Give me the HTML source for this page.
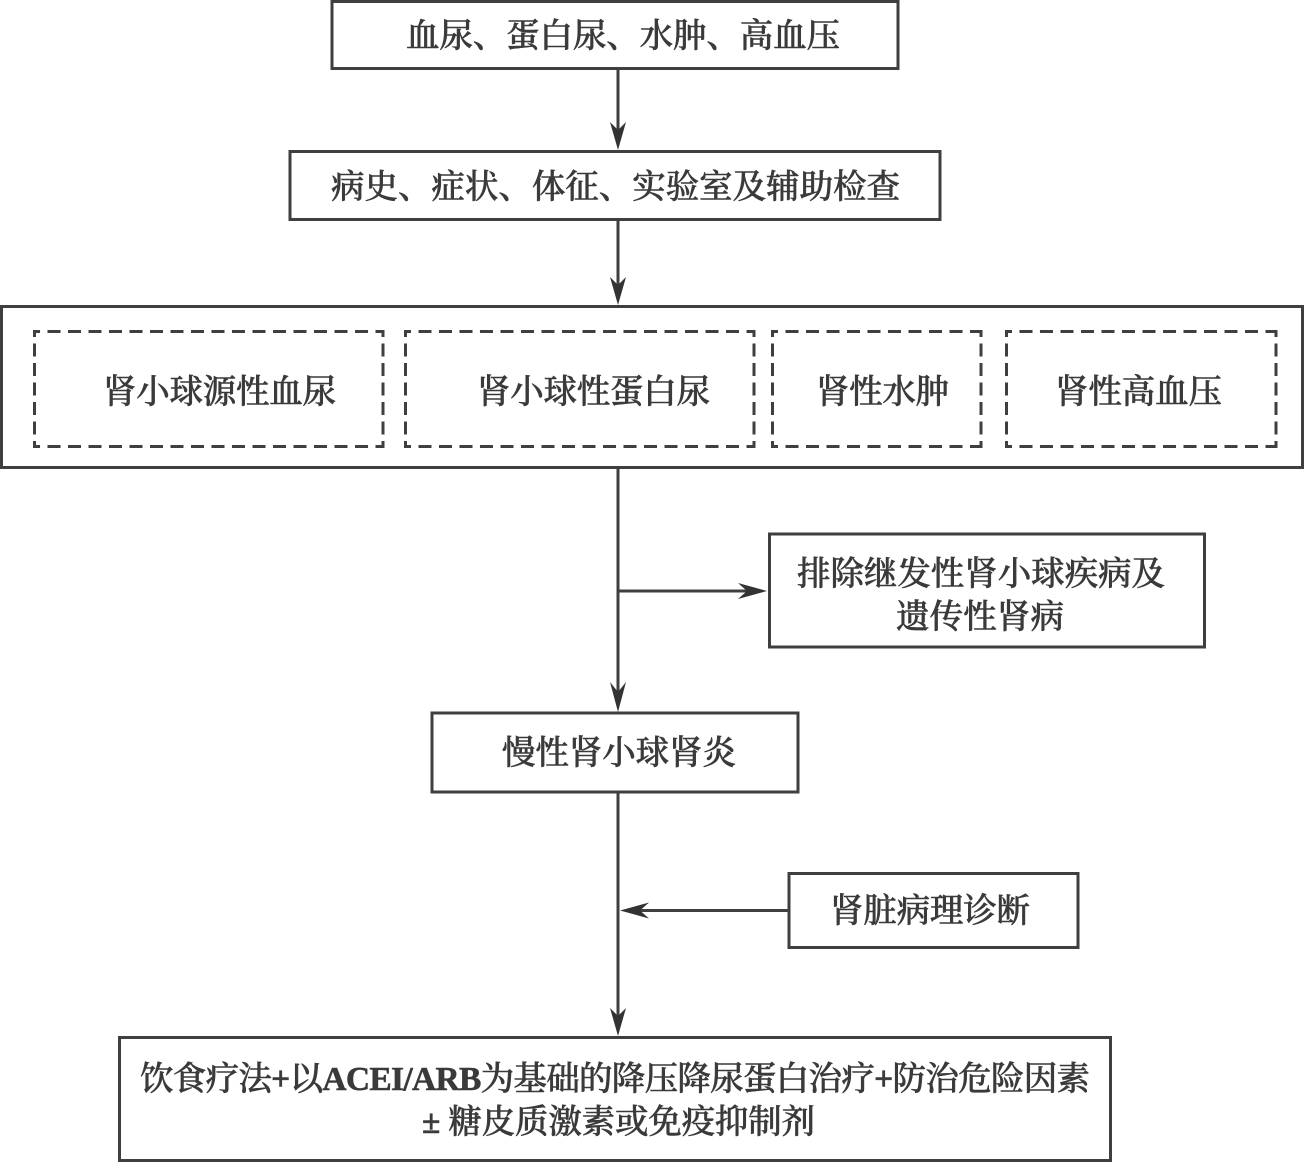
<!DOCTYPE html>
<html lang="zh">
<head>
<meta charset="utf-8">
<style>
html,body{margin:0;padding:0;background:#fff}
svg{display:block}
text{font-family:"Liberation Serif","Noto Serif CJK SC",serif;font-size:33.5px;fill:#3a3a3a;stroke:#3a3a3a;stroke-width:.55;font-weight:500}
tspan.m{font-weight:700}
.b{fill:none;stroke:#3f3f3f;stroke-width:3}
.h{fill:none;stroke:#3f3f3f;stroke-width:3;stroke-dasharray:13 7.5;stroke-dashoffset:6}
.v{fill:none;stroke:#3f3f3f;stroke-width:3;stroke-dasharray:13 6.5;stroke-dashoffset:6}
.l{stroke:#3f3f3f;stroke-width:3;fill:none}
.a{fill:#333}
</style>
</head>
<body>
<svg width="1304" height="1162" viewBox="0 0 1304 1162" xmlns="http://www.w3.org/2000/svg">
<rect class="b" x="332" y="1.5" width="566" height="67"/>
<rect class="b" x="290" y="151.5" width="650" height="68"/>
<rect class="b" x="1.5" y="306.5" width="1301" height="161"/>

<path class="h" d="M33 331.5H384M33 446.5H384"/>
<path class="v" d="M34.5 330V448M383 330V448"/>
<path class="h" d="M404 331.5H755M404 446.5H755"/>
<path class="v" d="M405.5 330V448M754 330V448"/>
<path class="h" d="M771 331.5H982M771 446.5H982"/>
<path class="v" d="M772.5 330V448M981 330V448"/>
<path class="h" d="M1005 331.5H1277M1005 446.5H1277"/>
<path class="v" d="M1006.5 330V448M1276 330V448"/>

<rect class="b" x="769.5" y="534" width="435" height="113"/>
<rect class="b" x="432" y="713" width="366" height="79"/>
<rect class="b" x="789" y="873.5" width="289" height="74"/>
<rect class="b" x="119.5" y="1037.5" width="991" height="123"/>

<path class="l" d="M618 69V135M618 220V290M618 468V696M618 793V1020M618 591H752M789 910.5H636"/>

<path class="a" d="M618 150L610 122L618 130L626 122Z"/>
<path class="a" d="M618 305L610 277L618 285L626 277Z"/>
<path class="a" d="M618 712L610 682L618 692L626 682Z"/>
<path class="a" d="M618 1036L610 1008L618 1016L626 1008Z"/>
<path class="a" d="M767 591L738 583L747 591L738 599Z"/>
<path class="a" d="M620 910.5L649 902.5L640 910.5L649 918.5Z"/>

<text x="406" y="47" textLength="434" lengthAdjust="spacing">血尿、蛋白尿、水肿、高血压</text>
<text x="331" y="198" textLength="569" lengthAdjust="spacing">病史、症状、体征、实验室及辅助检查</text>
<text x="103" y="403" textLength="233" lengthAdjust="spacing">肾小球源性血尿</text>
<text x="477" y="403" textLength="233" lengthAdjust="spacing">肾小球性蛋白尿</text>
<text x="816" y="403" textLength="133" lengthAdjust="spacing">肾性水肿</text>
<text x="1055" y="403" textLength="167" lengthAdjust="spacing">肾性高血压</text>
<text x="797" y="585" textLength="368" lengthAdjust="spacing">排除继发性肾小球疾病及</text>
<text x="896" y="628" textLength="168" lengthAdjust="spacing">遗传性肾病</text>
<text x="502" y="764" textLength="234" lengthAdjust="spacing">慢性肾小球肾炎</text>
<text x="830" y="922" textLength="200" lengthAdjust="spacing">肾脏病理诊断</text>
<text x="140" y="1090" textLength="950" lengthAdjust="spacing">饮食疗法<tspan class="m">+</tspan>以<tspan class="m">ACEI/ARB</tspan>为基础的降压降尿蛋白治疗<tspan class="m">+</tspan>防治危险因素</text>
<text x="422" y="1133" textLength="393" lengthAdjust="spacing"><tspan class="m">±</tspan> 糖皮质激素或免疫抑制剂</text>
</svg>
</body>
</html>
